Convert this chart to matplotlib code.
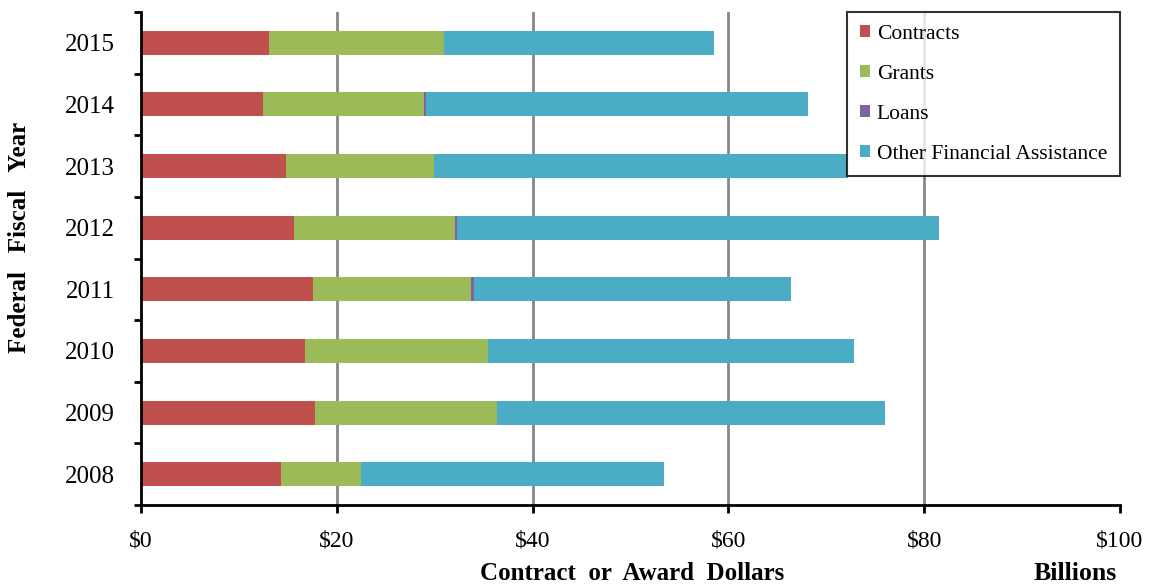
import matplotlib
matplotlib.use("Agg")
import matplotlib.pyplot as plt
import numpy as np

years = ["2008", "2009", "2010", "2011", "2012", "2013", "2014", "2015"]
contracts = [14.3, 17.8, 16.8, 17.6, 15.6, 14.8, 12.5, 13.1]
grants = [8.2, 18.6, 18.6, 16.1, 16.5, 15.1, 16.4, 17.8]
loans = [0.0, 0.0, 0.0, 0.3, 0.2, 0.0, 0.2, 0.0]
other = [30.9, 39.6, 37.4, 32.4, 49.2, 42.3, 39.0, 27.6]

series_names = ["Contracts", "Grants", "Loans", "Other Financial Assistance"]
colors = ["#C0504D", "#9BBB59", "#8064A2", "#4BACC6"]
xticks = [0, 20, 40, 60, 80, 100]
xtick_labels = ["$0", "$20", "$40", "$60", "$80", "$100"]

plt.rcParams['font.family'] = ['Liberation Serif', 'DejaVu Serif']

fig = plt.figure(figsize=(11.52, 5.86), dpi=100)
ax = fig.add_axes([141/1152, 1 - 505/586, (1120-141)/1152, (505-12)/586])

y = np.arange(len(years))
left = np.zeros(len(years))
for vals, name, c in zip([contracts, grants, loans, other], series_names, colors):
    ax.barh(y, vals, left=left, height=0.39, color=c, label=name, zorder=3)
    left = left + np.array(vals)

ax.set_xlim(0, 100)
ax.set_ylim(-0.5, len(years) - 0.5)
ax.set_xticks(xticks)
ax.set_xticklabels(xtick_labels, fontsize=17)
ax.set_yticks(y)
ax.set_yticklabels(years, fontsize=18)
ax.set_yticks(np.arange(-0.5, len(years)), minor=True)
ax.tick_params(axis='y', which='major', length=0, pad=19)
ax.tick_params(axis='y', which='minor', length=5, width=2, direction='out')
ax.tick_params(axis='x', which='major', length=6, width=2, direction='out', pad=12)

for gx in [20, 40, 60, 80]:
    ax.axvline(gx, color='#868686', lw=2, zorder=1)

for s in ['top', 'right']:
    ax.spines[s].set_visible(False)
for s in ['left', 'bottom']:
    ax.spines[s].set_linewidth(2)
    ax.spines[s].set_zorder(4)

leg = ax.legend(loc='upper right', bbox_to_anchor=(1.0, 1.0), fontsize=15.5,
                frameon=True, fancybox=False, handlelength=0.47, handleheight=0.47,
                handletextpad=0.3, labelspacing=0.97, borderpad=0.6,
                borderaxespad=0.0)
leg.get_frame().set_edgecolor('black')
leg.get_frame().set_linewidth(1.5)

fig.text(20/1152, 1 - 237/586, "Federal   Fiscal   Year", rotation=90, ha='center',
         va='center', fontsize=18, fontweight='bold')
fig.text(632/1152, 1 - 573/586, "Contract  or  Award  Dollars", ha='center',
         va='center', fontsize=18, fontweight='bold')
fig.text(1075/1152, 1 - 573/586, "Billions", ha='center', va='center',
         fontsize=18.5, fontweight='bold')

fig.savefig("out.png", dpi=100)
